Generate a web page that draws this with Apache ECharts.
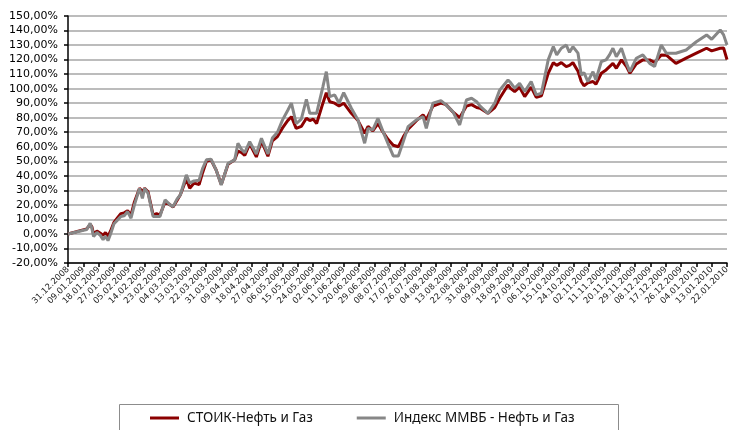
<!DOCTYPE html>
<html>
<head>
<meta charset="utf-8">
<script src="https://cdn.jsdelivr.net/npm/echarts@6/dist/echarts.min.js"></script>
<style>
  html, body { margin: 0; padding: 0; background: #fff; }
  #chart { width: 731px; height: 430px; }
</style>
</head>
<body>
<div id="chart"></div>
<script>
// days counted from 31.12.2008
var dayOffsets = [
  0, 11, 13, 14, 15, 17, 19, 20.6, 22, 23.5,
  25, 27, 29, 31, 33, 35, 37, 39, 42, 43.7,
  45, 47, 50, 52, 54, 57, 60, 61.7, 64, 66,
  69.5, 71.5, 74, 77, 79, 81.3, 84, 87, 90, 94,
  97.9, 99.8, 102, 103.8, 106.7, 110.6, 113.6, 117.4, 120, 123,
  126, 129, 131.2, 134, 137, 140, 142, 144, 146, 149.7,
  151.7, 153.7, 156.6, 159.2, 161.9, 166.4, 170.3, 174.2, 176.2, 179,
  182, 185, 188, 191, 194, 197, 199.7, 204.6, 208.5, 210.4,
  214.3, 219, 222, 226, 230, 234, 237, 240, 242, 246.6,
  250.6, 253.5, 258.4, 260, 262.3, 265.2, 268.2, 272, 275, 278,
  282, 285, 287, 289.7, 292.6, 294.5, 296.5, 299.5, 301.4, 303,
  305.3, 308.3, 310, 313.2, 316, 318, 320, 322, 325, 328,
  330, 333.7, 337.6, 341.6, 344.5, 348.4, 351.4, 357, 363, 369,
  375, 378, 383, 385, 387
];

var stoikValues = [
  0, 3.5, 6.5, 5, 0, 2, 0.5, -1, 1, -1.5,
  2, 8, 11, 14, 14.5, 16, 13, 22, 31.4, 29,
  31.4, 29, 13, 14, 13, 22, 20, 18.5, 23, 27,
  38, 31.4, 35, 34, 42, 50, 51, 44, 34, 48,
  51, 57, 56, 54, 62, 53, 64, 53.5, 64, 67,
  73, 78, 80.7, 72.7, 74, 79.6, 78, 79, 76, 90,
  97.2, 91, 90, 88, 90, 83, 78, 69.3, 74, 71,
  76, 70, 65, 61, 60, 67, 72, 78, 82, 78.5,
  88, 90, 89, 84, 80, 88, 89, 87, 86.5, 83,
  87, 93.4, 102.5, 100, 98, 101, 94.5, 101, 94, 95,
  110.6, 117.9, 116, 117.9, 115.2, 116, 117.9, 112, 104.9, 102,
  104, 104.9, 103, 110.6, 112.9, 115.2, 117.4, 114, 119.8, 115.2,
  110.6, 117, 119.8, 119.8, 118, 123.2, 123, 117.4, 121, 124.4,
  127.8, 126, 127.8, 128, 120
];

var indexValues = [
  0, 3, 7.4, 4, -1.8, 1, -1, -4, -1.5, -4.6,
  0, 7, 9.5, 12, 12.5, 15.4, 10.8, 20, 31.4, 24.5,
  31.4, 28, 12, 12, 12, 23.4, 20, 18.8, 24, 27,
  40.6, 35, 36.5, 37, 45, 51, 51.5, 44, 33.7, 48.6,
  51, 62.4, 58, 56, 63.5, 55, 65.8, 55, 66, 70,
  78.5, 85, 90, 76, 79, 92.7, 83, 83, 83, 101.4,
  111.7, 94.5, 95.7, 90, 97.2, 86.5, 78.5, 62.4, 72.7, 71.6,
  79.6, 70.4, 62, 53.7, 53.7, 64, 73.8, 78.5, 80.7, 72.7,
  90, 91.7, 88.8, 84.2, 75, 92.2, 93.4, 91, 88, 83,
  90, 99, 106, 104, 100.3, 103.7, 98, 104.9, 95.7, 96.8,
  119.8, 128.9, 123.2, 127.8, 130, 125, 128.9, 124.4, 109.4, 111,
  104.9, 111.7, 106, 118.7, 119.8, 123.2, 127.8, 122, 127.8, 117.4,
  111.7, 120.9, 123.2, 117.4, 115.2, 130, 124.4, 124.4, 126.6, 132.3,
  137, 134, 140.4, 137, 130
];

var tickLabels = [
  "31.12.2008", "09.01.2009", "18.01.2009", "27.01.2009", "05.02.2009",
  "14.02.2009", "23.02.2009", "04.03.2009", "13.03.2009", "22.03.2009",
  "31.03.2009", "09.04.2009", "18.04.2009", "27.04.2009", "06.05.2009",
  "15.05.2009", "24.05.2009", "02.06.2009", "11.06.2009", "20.06.2009",
  "29.06.2009", "08.07.2009", "17.07.2009", "26.07.2009", "04.08.2009",
  "13.08.2009", "22.08.2009", "31.08.2009", "09.09.2009", "18.09.2009",
  "27.09.2009", "06.10.2009", "15.10.2009", "24.10.2009", "02.11.2009",
  "11.11.2009", "20.11.2009", "29.11.2009", "08.12.2009", "17.12.2009",
  "26.12.2009", "04.01.2010", "13.01.2010", "22.01.2010"
];

var seriesNames = ["СТОИК-Нефть и Газ", "Индекс ММВБ - Нефть и Газ"];

function pairs(vals) {
  return dayOffsets.map(function (d, i) { return [d, vals[i]]; });
}

var chart = echarts.init(document.getElementById("chart"));
var option = {
  backgroundColor: "#fff",
  animation: false,
  grid: { left: 68, right: 4, top: 16, bottom: 167, containLabel: false, outerBoundsMode: "none" },
  xAxis: {
    type: "value",
    min: 0,
    max: 387,
    interval: 9,
    axisLine: { onZero: false, lineStyle: { color: "#000", width: 1.5 } },
    axisTick: { show: true, length: 4, lineStyle: { color: "#000", width: 1.5 } },
    splitLine: { show: false },
    axisLabel: {
      rotate: 45,
      margin: 5,
      fontFamily: "DejaVu Sans",
      fontSize: 8.5,
      color: "#222",
      formatter: function (v) {
        return tickLabels[Math.round(v / 9)] || "";
      },
    },
  },
  yAxis: {
    type: "value",
    min: -20,
    max: 150,
    interval: 10,
    axisLine: { show: true, lineStyle: { color: "#000", width: 1.5 } },
    axisTick: { show: true, length: 4, lineStyle: { color: "#000", width: 1.5 } },
    splitLine: { show: true, lineStyle: { color: "#a6a6a6", width: 1.5 } },
    axisLabel: {
      margin: 10,
      fontFamily: "DejaVu Sans",
      fontSize: 11,
      color: "#000",
      formatter: function (v) {
        return v.toFixed(2).replace(".", ",") + "%";
      },
    },
  },
  legend: {
    left: 150,
    top: 411,
    padding: 0,
    itemGap: 44,
    itemWidth: 29,
    itemHeight: 3,
    icon: "rect",
    textStyle: { fontFamily: "Noto Sans", fontSize: 13.5, color: "#111", padding: [0, 0, 0, 3] },
    data: seriesNames,
  },
  graphic: [
    {
      type: "rect",
      shape: { x: 119.5, y: 404.5, width: 499, height: 40 },
      style: { fill: "none", stroke: "#8c8c8c", lineWidth: 1 },
      silent: true,
    },
  ],
  series: [
    {
      name: seriesNames[0],
      type: "line",
      data: pairs(stoikValues),
      showSymbol: false,
      color: "#8B0000",
      lineStyle: { color: "#8B0000", width: 3 },
    },
    {
      name: seriesNames[1],
      type: "line",
      data: pairs(indexValues),
      showSymbol: false,
      color: "#878787",
      lineStyle: { color: "#878787", width: 3 },
    },
  ],
};
chart.setOption(option);
</script>
</body>
</html>
